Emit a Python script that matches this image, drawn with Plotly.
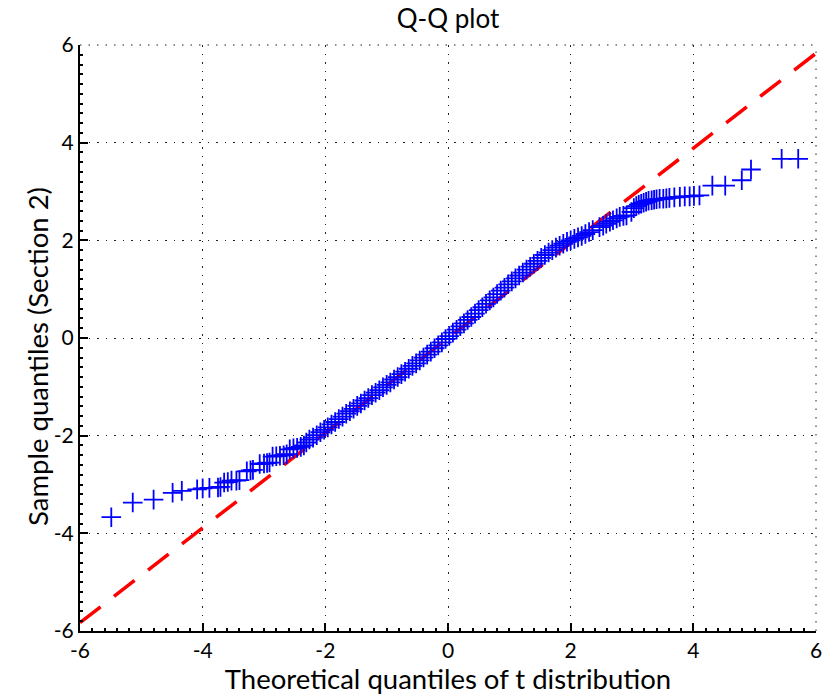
import plotly.graph_objects as go

# ---- data ----
lower_tail_x = [-5.49, -5.14, -4.80, -4.49, -4.34, -4.09, -4.00, -3.89, -3.75, -3.71,
                -3.65, -3.59, -3.53, -3.45, -3.40, -3.28, -3.22, -3.18, -3.07, -3.00,
                -2.95, -2.91, -2.86, -2.80, -2.74, -2.68, -2.63, -2.58, -2.52, -2.46,
                -2.40, -2.35, -2.31]
lower_tail_y = [-3.67, -3.37, -3.31, -3.17, -3.13, -3.10, -3.08, -3.07, -3.06, -3.05,
                -2.96, -2.95, -2.92, -2.92, -2.91, -2.73, -2.71, -2.70, -2.58, -2.57,
                -2.56, -2.55, -2.43, -2.42, -2.41, -2.40, -2.38, -2.28, -2.26, -2.25,
                -2.23, -2.20, -2.14]

body_x = [-2.26, -2.20, -2.14, -2.08, -2.02, -1.96, -1.90, -1.84, -1.78, -1.72,
          -1.66, -1.60, -1.54, -1.48, -1.42, -1.36, -1.30, -1.24, -1.18, -1.12,
          -1.06, -1.00, -0.94, -0.88, -0.82, -0.76, -0.70, -0.64, -0.58, -0.52,
          -0.46, -0.40, -0.34, -0.28, -0.22, -0.16, -0.10, -0.04, 0.02, 0.08,
          0.14, 0.20, 0.26, 0.32, 0.38, 0.44, 0.50, 0.56, 0.62, 0.68,
          0.74, 0.80, 0.86, 0.92, 0.98, 1.04, 1.10, 1.16, 1.22, 1.28,
          1.34, 1.40, 1.46, 1.52, 1.58, 1.64, 1.70, 1.76, 1.82, 1.88,
          1.94, 2.00, 2.06, 2.12, 2.18, 2.24, 2.30, 2.36]
body_y = [-2.08, -2.04, -1.99, -1.93, -1.88, -1.83, -1.77, -1.72, -1.66, -1.61,
          -1.55, -1.50, -1.45, -1.39, -1.34, -1.28, -1.23, -1.17, -1.12, -1.07,
          -1.01, -0.96, -0.91, -0.85, -0.80, -0.74, -0.69, -0.63, -0.57, -0.52,
          -0.46, -0.40, -0.34, -0.28, -0.21, -0.15, -0.09, -0.02, 0.04, 0.11,
          0.17, 0.24, 0.30, 0.37, 0.43, 0.50, 0.57, 0.63, 0.70, 0.77,
          0.83, 0.90, 0.97, 1.03, 1.10, 1.16, 1.22, 1.28, 1.34, 1.40,
          1.46, 1.52, 1.58, 1.64, 1.70, 1.75, 1.80, 1.85, 1.89, 1.93,
          1.97, 2.00, 2.03, 2.06, 2.09, 2.13, 2.17, 2.21]

upper_tail_x = [2.47, 2.53, 2.58, 2.64, 2.69, 2.75, 2.80, 2.86, 2.91, 2.99,
                3.03, 3.07, 3.11, 3.15, 3.19, 3.23, 3.27, 3.32, 3.36, 3.40,
                3.45, 3.51, 3.56, 3.61, 3.69, 3.78, 3.86, 3.94, 4.01, 4.10,
                4.31, 4.52, 4.79, 4.94, 5.44, 5.71]
upper_tail_y = [2.27, 2.30, 2.34, 2.38, 2.41, 2.45, 2.48, 2.50, 2.51, 2.58,
                2.66, 2.70, 2.73, 2.75, 2.77, 2.79, 2.81, 2.82, 2.83, 2.84,
                2.85, 2.85, 2.86, 2.87, 2.88, 2.89, 2.90, 2.90, 2.91, 2.92,
                3.12, 3.12, 3.23, 3.45, 3.67, 3.67]

ref_line_x = [-6, 6]
ref_line_y = [-5.83, 5.83]

axis_ticks = [-6, -4, -2, 0, 2, 4, 6]

sample_x = lower_tail_x + body_x + upper_tail_x
sample_y = lower_tail_y + body_y + upper_tail_y

FONT = "Lato"
GRID_COLOR = "#222222"
GRID_DASH = "1.5px,7px"

fig = go.Figure()
fig.add_trace(go.Scatter(
    x=ref_line_x, y=ref_line_y, mode="lines",
    line=dict(color="#ff0000", width=3.5, dash="26px,17px"),
    hoverinfo="skip", showlegend=False))
fig.add_trace(go.Scatter(
    x=sample_x, y=sample_y, mode="markers",
    marker=dict(symbol="cross-thin", size=14,
                line=dict(color="#0000ff", width=1.8), color="#0000ff"),
    showlegend=False))

axis_common = dict(
    range=[-6, 6], tickvals=axis_ticks, ticktext=[str(v) for v in axis_ticks],
    showgrid=True, gridcolor=GRID_COLOR, gridwidth=1, griddash=GRID_DASH,
    zeroline=False, showline=True, linecolor="black", linewidth=2, mirror=False,
    ticks="inside", ticklen=8, tickwidth=1.5, tickcolor="black",
    minor=dict(ticks="inside", ticklen=3, tickcolor="black", dtick=0.2, showgrid=False),
    tickfont=dict(family=FONT, size=21, color="black"),
    fixedrange=True,
)

fig.update_xaxes(**axis_common,
                 title=dict(text="Theoretical quantiles of t distribution",
                            font=dict(family=FONT, size=27.5, color="black"), standoff=6))
fig.update_yaxes(**axis_common)

# y-axis title placed as rotated text to match the reference position
fig.add_annotation(text="Sample quantiles (Section 2)", textangle=-90,
                   xref="paper", yref="paper", x=(38 - 80) / 736, y=(631 - 357) / 586,
                   xanchor="center", yanchor="middle", showarrow=False,
                   font=dict(family=FONT, size=27.5, color="black"))

# dotted grid lines along the top and right plot edges (plotly hides edge gridlines)
fig.add_shape(type="line", xref="paper", yref="paper", x0=0, x1=1, y0=1, y1=1,
              line=dict(color=GRID_COLOR, width=1, dash=GRID_DASH), layer="below")
fig.add_shape(type="line", xref="paper", yref="paper", x0=1, x1=1, y0=0, y1=1,
              line=dict(color=GRID_COLOR, width=1, dash=GRID_DASH), layer="below")

fig.update_layout(
    width=838, height=699,
    margin=dict(l=80, r=22, t=45, b=68),
    paper_bgcolor="white", plot_bgcolor="white",
    title=dict(text="Q-Q plot", x=0.5, xref="paper", y=1 - 19 / 699, yref="container",
               xanchor="center", yanchor="middle",
               font=dict(family=FONT, size=26, color="black")),
    font=dict(family=FONT, color="black"),
)

fig.write_html("out.html")
